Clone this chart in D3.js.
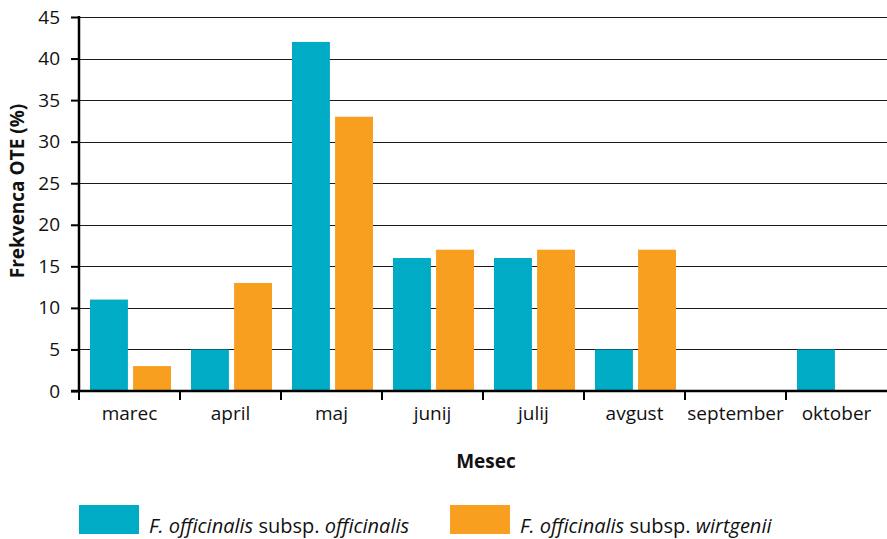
<!DOCTYPE html>
<html>
<head>
<meta charset="utf-8">
<script src="https://cdn.jsdelivr.net/npm/d3@7"></script>
<style>
  body { margin: 0; background: #fff; }
  svg { display: block; font-family: "Open Sans", sans-serif; }
</style>
</head>
<body>
<svg id="chart"></svg>
<script>
// chart data
var months = ["marec", "april", "maj", "junij", "julij", "avgust", "september", "oktober"];
var officinalis = [11, 5, 42, 16, 16, 5, 0, 5];
var wirtgenii = [3, 13, 33, 17, 17, 17, 0, 0];
var yTicks = [0, 5, 10, 15, 20, 25, 30, 35, 40, 45];

var width = 887
var height = 539
var margin = {top: 17, right: 0, bottom: 148, left: 79};

var svg = d3.select('#chart')
            .attr("width", width)
            .attr("height", height);

var x = d3.scaleBand()
  .domain(months)
  .range([margin.left, width - margin.right])
  .paddingInner(0)
  .paddingOuter(0);

// two bars inside each month band
var inner = d3.scaleBand()
  .domain(["officinalis", "wirtgenii"])
  .range([11, x.bandwidth() - 9])
  .paddingInner(0.12);

var y = d3.scaleLinear()
  .domain([0, 45])
  .range([height - margin.bottom, margin.top]);

// gridlines
svg.append("g")
  .selectAll("line")
  .data(yTicks.filter(d => d > 0))
  .join("line")
    .attr("x1", margin.left)
    .attr("x2", width)
    .attr("y1", d => Math.round(y(d)) + 0.5)
    .attr("y2", d => Math.round(y(d)) + 0.5)
    .attr("stroke", "#1a1a1a")
    .attr("stroke-width", 1);

var series = [
  {key: "officinalis", values: officinalis, color: "#00abc5"},
  {key: "wirtgenii", values: wirtgenii, color: "#f89f1f"}
];

series.forEach(function(s){
  svg.append("g")
    .selectAll("rect")
    .data(months)
    .join("rect")
      .attr("x", (m) => x(m) + inner(s.key))
      .attr("width", inner.bandwidth())
      .attr("y", (m, i) => y(s.values[i]))
      .attr("height", (m, i) => y(0) - y(s.values[i]))
      .attr("fill", s.color);
});

// y axis
var yAxis = svg.append("g")
  .attr("transform", "translate(" + margin.left + ",0)")
  .call(d3.axisLeft(y).tickValues(yTicks).tickSize(8).tickPadding(11));
yAxis.select(".domain").attr("stroke", "#000").attr("stroke-width", 2.5).attr("d", "M0," + (margin.top - 1) + "V" + y(0));
yAxis.selectAll(".tick line").attr("stroke", "#000").attr("stroke-width", 2);
yAxis.selectAll("text").attr("font-size", 19).attr("fill", "#111").attr("font-family", "Open Sans");

// x axis
var xAxis = svg.append("g")
  .attr("transform", "translate(0," + y(0) + ")")
  .call(d3.axisBottom(x).tickSize(0).tickPadding(16));
xAxis.select(".domain").attr("stroke", "#000").attr("stroke-width", 2.5).attr("d", "M" + (margin.left - 8) + ",0H" + width);
xAxis.selectAll("text").attr("font-size", 19).attr("fill", "#111").attr("font-family", "Open Sans");

// tick marks between months
svg.append("g")
  .selectAll("line")
  .data(months)
  .join("line")
    .attr("x1", d => x(d))
    .attr("x2", d => x(d))
    .attr("y1", y(0))
    .attr("y2", y(0) + 9)
    .attr("stroke", "#000")
    .attr("stroke-width", 2);

// axis titles
svg.append("text")
  .attr("transform", "translate(24,191) rotate(-90)")
  .attr("text-anchor", "middle")
  .attr("font-size", 19)
  .attr("font-weight", "bold")
  .attr("fill", "#111")
  .text("Frekvenca OTE (%)");

svg.append("text")
  .attr("x", 486)
  .attr("y", 468)
  .attr("text-anchor", "middle")
  .attr("font-size", 19)
  .attr("font-weight", "bold")
  .attr("fill", "#111")
  .text("Mesec");

// legend
var legendItems = [
  {color: "#00abc5", x: 79, italic2: "officinalis"},
  {color: "#f89f1f", x: 450, italic2: "wirtgenii"}
];

var legend = svg.append("g")
  .selectAll("g")
  .data(legendItems)
  .join("g")
    .attr("transform", d => "translate(" + d.x + ",505)");

legend.append("rect")
  .attr("width", 60)
  .attr("height", 29)
  .attr("fill", d => d.color);

var lt = legend.append("text")
  .attr("x", 70)
  .attr("y", 28)
  .attr("font-size", 20)
  .attr("fill", "#111");
lt.append("tspan").attr("font-style", "italic").text("F. officinalis");
lt.append("tspan").text(" subsp. ");
lt.append("tspan").attr("font-style", "italic").text(d => d.italic2);
</script>
</body>
</html>
